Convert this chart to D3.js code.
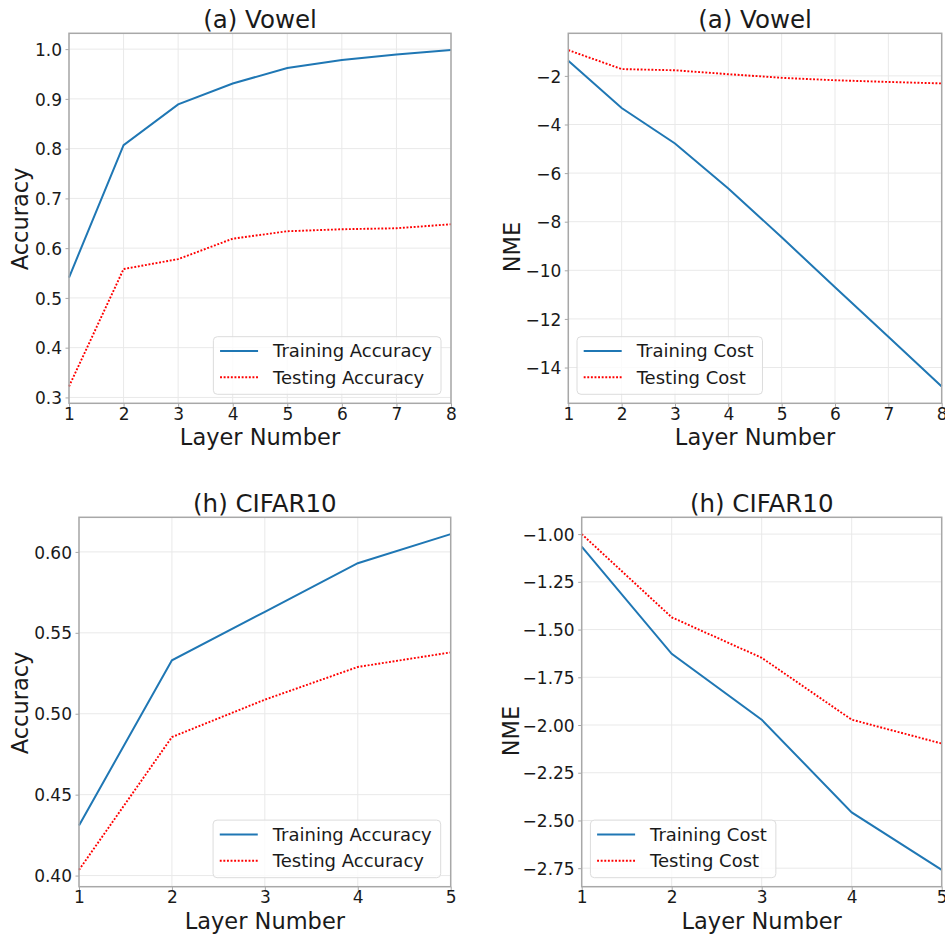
<!DOCTYPE html>
<html>
<head>
<meta charset="utf-8">
<script src="https://cdn.jsdelivr.net/npm/d3@7"></script>
<style>
  html, body { margin: 0; padding: 0; background: #fff; }
  svg { display: block; font-family: "DejaVu Sans", sans-serif; }
</style>
</head>
<body>
<svg id="fig" width="945" height="935"></svg>
<script>
// ---- data ----
const layersVowel = [1, 2, 3, 4, 5, 6, 7, 8];
const layersCifar = [1, 2, 3, 4, 5];

const vowelTrainAcc  = [0.541, 0.807, 0.889, 0.931, 0.962, 0.978, 0.989, 0.998];
const vowelTestAcc   = [0.322, 0.558, 0.578, 0.619, 0.634, 0.638, 0.640, 0.648];
const vowelTrainCost = [-1.38, -3.32, -4.78, -6.63, -8.64, -10.70, -12.73, -14.78];
const vowelTestCost  = [-0.94, -1.72, -1.77, -1.93, -2.08, -2.18, -2.25, -2.31];

const cifarTrainAcc  = [0.431, 0.533, 0.563, 0.593, 0.611];
const cifarTestAcc   = [0.4035, 0.4856, 0.5087, 0.5289, 0.5379];
const cifarTrainCost = [-1.066, -1.627, -1.972, -2.458, -2.759];
const cifarTestCost  = [-1.000, -1.436, -1.648, -1.972, -2.097];

const yTicksVowelAcc  = [0.3, 0.4, 0.5, 0.6, 0.7, 0.8, 0.9, 1.0];
const yTicksVowelCost = [-14, -12, -10, -8, -6, -4, -2];
const yTicksCifarAcc  = [0.40, 0.45, 0.50, 0.55, 0.60];
const yTicksCifarCost = [-2.75, -2.50, -2.25, -2.00, -1.75, -1.50, -1.25, -1.00];

const accLegend  = ["Training Accuracy", "Testing Accuracy"];
const costLegend = ["Training Cost", "Testing Cost"];

// ---- styling ----
const C_TRAIN = "#1f77b4", C_TEST = "#ff0000";
const TXT = "#1a1a1a", SPINE = "#a8a8a8", GRID = "#e9e9e9";

const svg = d3.select("#fig");

const panels = [
  { box: {l: 69,    r: 451,   t: 33.3,  b: 403.3}, title: "(a) Vowel",   ylabel: "Accuracy",
    x: layersVowel, train: vowelTrainAcc, test: vowelTestAcc, yticks: yTicksVowelAcc, fmt: ".1f",
    legend: accLegend, loc: "right", ylab: {x: 28, y: 219}, xticks: layersVowel },
  { box: {l: 568.3, r: 941.7, t: 33.3,  b: 403.3}, title: "(a) Vowel",   ylabel: "NME",
    x: layersVowel, train: vowelTrainCost, test: vowelTestCost, yticks: yTicksVowelCost, fmt: "d",
    legend: costLegend, loc: "left", ylab: {x: 520, y: 247}, xticks: layersVowel },
  { box: {l: 79,    r: 450.7, t: 517.3, b: 886.7}, title: "(h) CIFAR10", ylabel: "Accuracy",
    x: layersCifar, train: cifarTrainAcc, test: cifarTestAcc, yticks: yTicksCifarAcc, fmt: ".2f",
    legend: accLegend, loc: "right", ylab: {x: 28, y: 703}, xticks: layersCifar },
  { box: {l: 581.7, r: 941.7, t: 517.3, b: 886.7}, title: "(h) CIFAR10", ylabel: "NME",
    x: layersCifar, train: cifarTrainCost, test: cifarTestCost, yticks: yTicksCifarCost, fmt: ".2f",
    legend: costLegend, loc: "left", ylab: {x: 519, y: 731}, xticks: layersCifar },
];

panels.forEach(p => {
  const {l, r, t, b} = p.box;
  const g = svg.append("g");

  const x = d3.scaleLinear().domain(d3.extent(p.x)).range([l, r]);
  const all = p.train.concat(p.test);
  const [lo, hi] = d3.extent(all);
  const pad = (hi - lo) * 0.05;
  const y = d3.scaleLinear().domain([lo - pad, hi + pad]).range([b, t]);

  // grid
  g.append("g").selectAll("line").data(p.xticks).join("line")
    .attr("x1", d => x(d)).attr("x2", d => x(d)).attr("y1", t).attr("y2", b)
    .attr("stroke", GRID).attr("stroke-width", 1);
  g.append("g").selectAll("line").data(p.yticks).join("line")
    .attr("x1", l).attr("x2", r).attr("y1", d => y(d)).attr("y2", d => y(d))
    .attr("stroke", GRID).attr("stroke-width", 1);

  // axes
  const xAxis = d3.axisBottom(x).tickValues(p.xticks).tickFormat(d3.format("d"))
    .tickSize(3.5).tickPadding(3);
  const gx = g.append("g").attr("transform", `translate(0,${b})`).call(xAxis);
  const yAxis = d3.axisLeft(y).tickValues(p.yticks).tickFormat(d3.format(p.fmt))
    .tickSize(3.5).tickPadding(3.5);
  const gy = g.append("g").attr("transform", `translate(${l},0)`).call(yAxis);
  [gx, gy].forEach(a => {
    a.select(".domain").remove();
    a.selectAll(".tick line").attr("stroke", SPINE).attr("stroke-width", 1);
    a.selectAll(".tick text").attr("fill", TXT)
      .style("font-family", "DejaVu Sans").style("font-size", "17px");
  });
  gx.selectAll(".tick text").attr("dy", null).attr("y", 16.8).attr("dominant-baseline", "auto");
  gy.selectAll(".tick text").attr("dy", "0.36em");

  // series
  const line = d3.line().x((d, i) => x(p.x[i])).y(d => y(d));
  g.append("path").datum(p.test).attr("d", line)
    .attr("fill", "none").attr("stroke", C_TEST).attr("stroke-width", 1.9)
    .attr("stroke-dasharray", "1.9,1.7");
  g.append("path").datum(p.train).attr("d", line)
    .attr("fill", "none").attr("stroke", C_TRAIN).attr("stroke-width", 2);

  // frame
  g.append("rect").attr("x", l).attr("y", t).attr("width", r - l).attr("height", b - t)
    .attr("fill", "none").attr("stroke", SPINE).attr("stroke-width", 1.5);

  // labels
  g.append("text").attr("x", (l + r) / 2).attr("y", t - 5).attr("text-anchor", "middle")
    .attr("fill", TXT).style("font-size", "24.5px").text(p.title);
  g.append("text").attr("x", (l + r) / 2).attr("y", b + 42).attr("text-anchor", "middle")
    .attr("fill", TXT).style("font-size", "22.5px").text("Layer Number");
  g.append("text").attr("transform", `translate(${p.ylab.x},${p.ylab.y}) rotate(-90)`)
    .attr("text-anchor", "middle").attr("fill", TXT).style("font-size", "22.5px").text(p.ylabel);

  // legend
  const lg = g.append("g");
  const bg = lg.append("rect");
  const texts = p.legend.map((s, i) => lg.append("text").attr("x", 59.7).attr("y", 14.3 + i * 26.3)
    .attr("dy", "0.36em").attr("fill", TXT).style("font-size", "18px").text(s));
  const tw = d3.max(texts, tx => tx.node().getComputedTextLength());
  const lw = 59.7 + tw + 9, lh = 57.6;
  bg.attr("width", lw).attr("height", lh).attr("rx", 4)
    .attr("fill", "#fff").attr("fill-opacity", 0.8).attr("stroke", "#dcdcdc").attr("stroke-width", 1);
  lg.append("line").attr("x1", 6.7).attr("x2", 44.7).attr("y1", 14.3).attr("y2", 14.3)
    .attr("stroke", C_TRAIN).attr("stroke-width", 2);
  lg.append("line").attr("x1", 6.7).attr("x2", 44.7).attr("y1", 40.6).attr("y2", 40.6)
    .attr("stroke", C_TEST).attr("stroke-width", 1.9).attr("stroke-dasharray", "1.9,1.7");
  const lx = p.loc === "right" ? r - 10 - lw : l + 8.7;
  lg.attr("transform", `translate(${lx},${b - 9 - lh})`);
});
</script>
</body>
</html>
